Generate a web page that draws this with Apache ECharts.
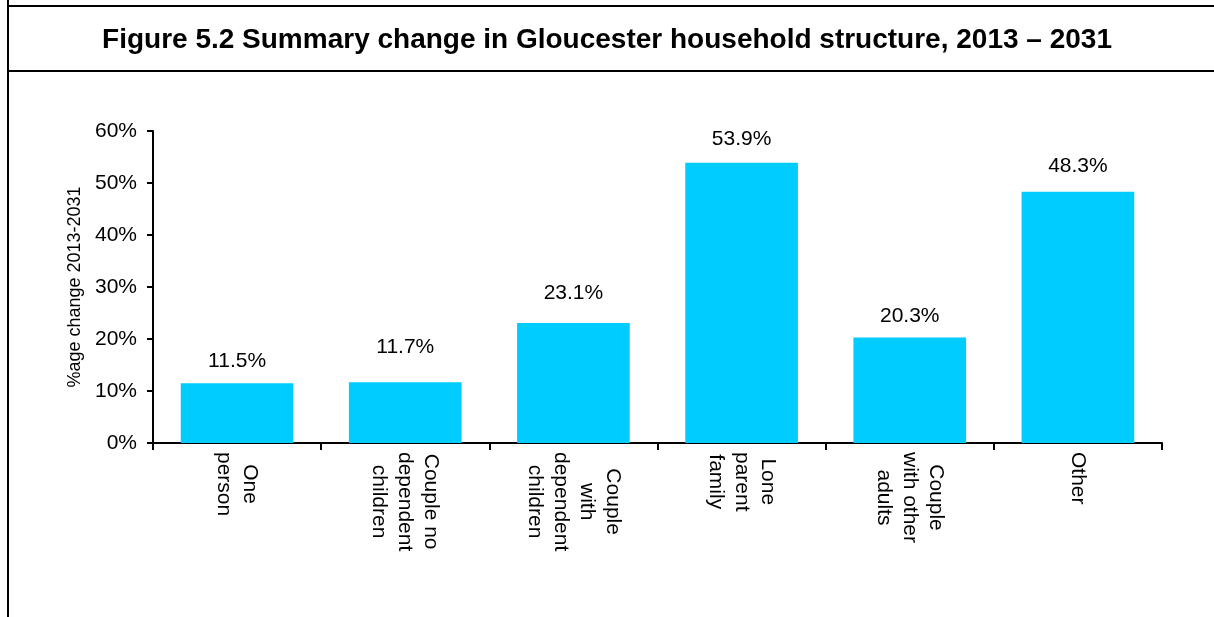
<!DOCTYPE html>
<html>
<head>
<meta charset="utf-8">
<title>Gloucester household structure</title>
<script src="https://cdn.jsdelivr.net/npm/echarts@6/dist/echarts.min.js"></script>
<style>
  html, body { margin: 0; padding: 0; background: #fff; }
  #chart { width: 1214px; height: 617px; }
</style>
</head>
<body>
<div id="chart"></div>
<script>
// Household types (category axis, multi-line labels)
const categories = [
  'One\nperson',
  'Couple no\ndependent\nchildren',
  'Couple\nwith\ndependent\nchildren',
  'Lone\nparent\nfamily',
  'Couple\nwith other\nadults',
  'Other'
];
// Percentage change in number of households, 2013-2031
const changePct = [11.5, 11.7, 23.1, 53.9, 20.3, 48.3];
// Value axis ticks (percent)
const yTicks = [0, 10, 20, 30, 40, 50, 60];
// Gap (px) between each bar top and its value label, as laid out by hand
const labelGap = [11, 24, 19, 13, 11, 15];

const titleText = 'Figure 5.2 Summary change in Gloucester household structure, 2013 \u2013 2031';
const yAxisTitle = '%age change 2013-2031';

const FONT = '"Liberation Sans", Arial, Helvetica, sans-serif';
const chart = echarts.init(document.getElementById('chart'), null, { renderer: 'canvas' });

const option = {
  backgroundColor: '#ffffff',
  animation: false,
  title: {
    text: titleText,
    left: 'center',
    top: 21,
    textStyle: { fontFamily: FONT, fontSize: 28, fontWeight: 'bold', color: '#000' }
  },
  // frame around the figure and the rule under its heading
  graphic: [
    { type: 'line', shape: { x1: 8, y1: 0, x2: 8, y2: 617 }, style: { stroke: '#000', lineWidth: 2 } },
    { type: 'line', shape: { x1: 8, y1: 6, x2: 1214, y2: 6 }, style: { stroke: '#000', lineWidth: 2 } },
    { type: 'line', shape: { x1: 8, y1: 71, x2: 1214, y2: 71 }, style: { stroke: '#000', lineWidth: 2 } }
  ],
  grid: { left: 153, right: 52, top: 131, bottom: 174, containLabel: false },
  xAxis: {
    type: 'category',
    data: categories,
    axisLine: { show: true, lineStyle: { color: '#000', width: 2 } },
    axisTick: { show: true, length: 7, lineStyle: { color: '#000', width: 2 }, alignWithLabel: false },
    axisLabel: {
      rotate: -90,
      margin: 9,
      interval: 0,
      formatter: v => v.split('\n').map(s => '{c|' + s + '}').join('\n'),
      rich: {
        c: { fontFamily: FONT, fontSize: 21, lineHeight: 26, color: '#000', align: 'center' }
      }
    },
    splitLine: { show: false }
  },
  yAxis: {
    type: 'value',
    min: yTicks[0],
    max: yTicks[yTicks.length - 1],
    interval: yTicks[1] - yTicks[0],
    name: yAxisTitle,
    nameLocation: 'middle',
    nameGap: 68,
    nameRotate: 90,
    nameTextStyle: { fontFamily: FONT, fontSize: 18, color: '#000' },
    axisLine: { show: true, lineStyle: { color: '#000', width: 2 } },
    axisTick: { show: true, length: 6, lineStyle: { color: '#000', width: 2 } },
    axisLabel: {
      margin: 16,
      fontFamily: FONT,
      fontSize: 21,
      color: '#000',
      formatter: v => v + '%'
    },
    splitLine: { show: false }
  },
  series: [{
    type: 'bar',
    data: changePct.map((v, i) => ({ value: v, label: { distance: labelGap[i] } })),
    barCategoryGap: '33%',
    itemStyle: { color: '#00CCFF' },
    label: {
      show: true,
      position: 'top',
      fontFamily: FONT,
      fontSize: 21,
      color: '#000',
      formatter: p => p.value.toFixed(1) + '%'
    }
  }]
};

chart.setOption(option);
</script>
</body>
</html>
